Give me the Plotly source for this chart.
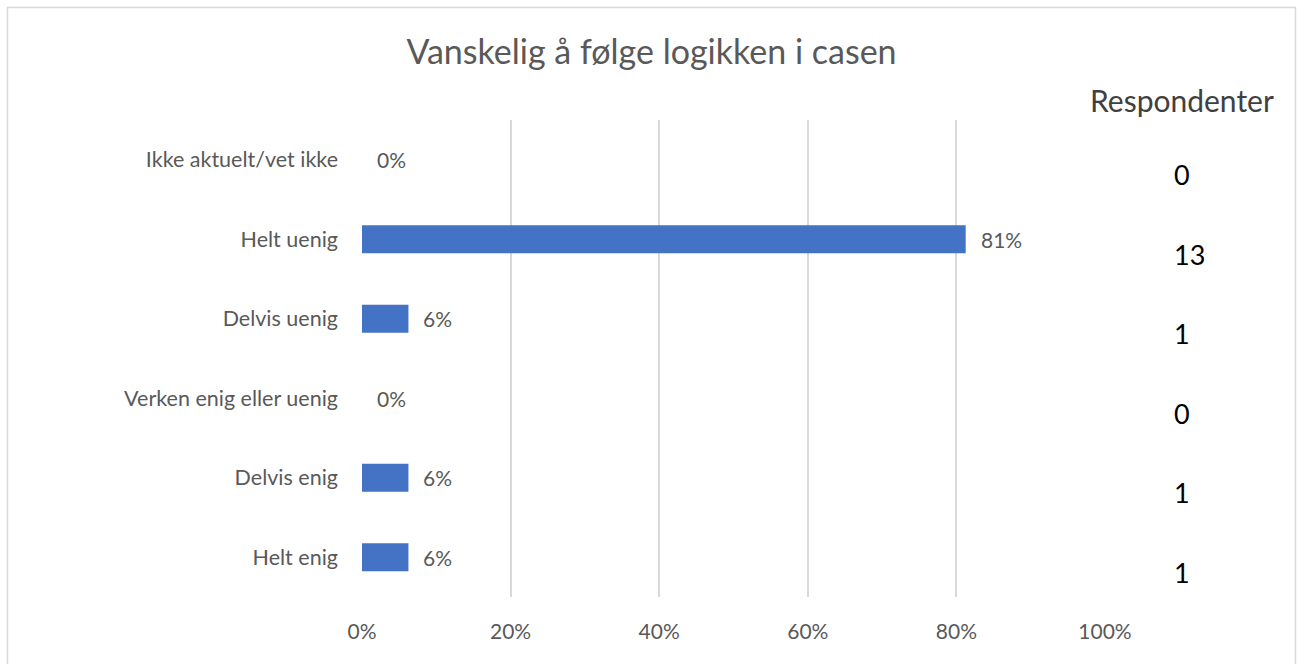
import plotly.graph_objects as go

categories = ["Ikke aktuelt/vet ikke", "Helt uenig", "Delvis uenig",
              "Verken enig eller uenig", "Delvis enig", "Helt enig"]
percent = [0.0, 81.25, 6.25, 0.0, 6.25, 6.25]
respondents = [0, 13, 1, 0, 1, 1]
tick_vals = [0, 20, 40, 60, 80, 100]
tick_text = ["0%", "20%", "40%", "60%", "80%", "100%"]
title_text = "Vanskelig å følge logikken i casen"
column_header = "Respondenter"

FONT = "Lato"
GRAY = "#595959"

W, H = 1303, 664
L, R, T, B = 362, 198, 120, 67
pw, ph = W - L - R, H - T - B

def px_x(x):
    return (x - L) / pw

def px_y(y):
    return 1 - (y - T) / ph

fig = go.Figure()
fig.add_trace(go.Bar(
    y=categories, x=percent, orientation="h",
    marker=dict(color="#4472C4", line=dict(width=0)),
    width=0.355,
    hoverinfo="skip",
))

annotations = []
# value labels next to bars
for c, v in zip(categories, percent):
    annotations.append(dict(
        x=v, xref="x", y=c, yref="y", xanchor="left", yanchor="middle",
        xshift=13, text=f"{round(v)}%", showarrow=False,
        font=dict(family=FONT, size=21, color=GRAY),
    ))
# respondent column
for c, n in zip(categories, respondents):
    annotations.append(dict(
        x=px_x(1172), xref="paper", y=c, yref="y", yshift=-15,
        xanchor="left", yanchor="middle",
        text=str(n), showarrow=False,
        font=dict(family=FONT, size=27, color="#000000"),
    ))
annotations.append(dict(
    x=px_x(1182), xref="paper", y=px_y(100), yref="paper",
    xanchor="center", yanchor="middle",
    text=column_header, showarrow=False,
    font=dict(family=FONT, size=30, color="#404040"),
))

fig.update_layout(
    width=W, height=H,
    margin=dict(l=L, r=R, t=T, b=B, pad=0),
    paper_bgcolor="white", plot_bgcolor="white",
    showlegend=False,
    title=dict(text=title_text, x=0.5, xanchor="center", y=1 - 52 / H, yanchor="middle",
               font=dict(family=FONT, size=34, color=GRAY)),
    xaxis=dict(range=[0, 100], tickvals=tick_vals, ticktext=tick_text,
               showgrid=True, gridcolor="#d9d9d9", gridwidth=1.5,
               zeroline=False, showline=False, ticks="",
               ticklabelstandoff=20,
               tickfont=dict(family=FONT, size=21, color=GRAY), fixedrange=True),
    yaxis=dict(categoryorder="array", categoryarray=categories, autorange="reversed",
               showgrid=False, zeroline=False, showline=False, ticks="",
               ticklabelstandoff=23,
               tickfont=dict(family=FONT, size=21.5, color=GRAY), fixedrange=True),
    annotations=annotations,
    shapes=[dict(type="rect", xref="paper", yref="paper",
                 x0=px_x(7.5), x1=px_x(1295.5), y0=px_y(680), y1=px_y(7.5),
                 line=dict(color="#d9d9d9", width=1.5), fillcolor="rgba(0,0,0,0)", layer="below")],
)

fig.write_html("out.html", config={"displayModeBar": False},
               post_script="document.body.style.margin='0';document.body.style.overflow='hidden';")
